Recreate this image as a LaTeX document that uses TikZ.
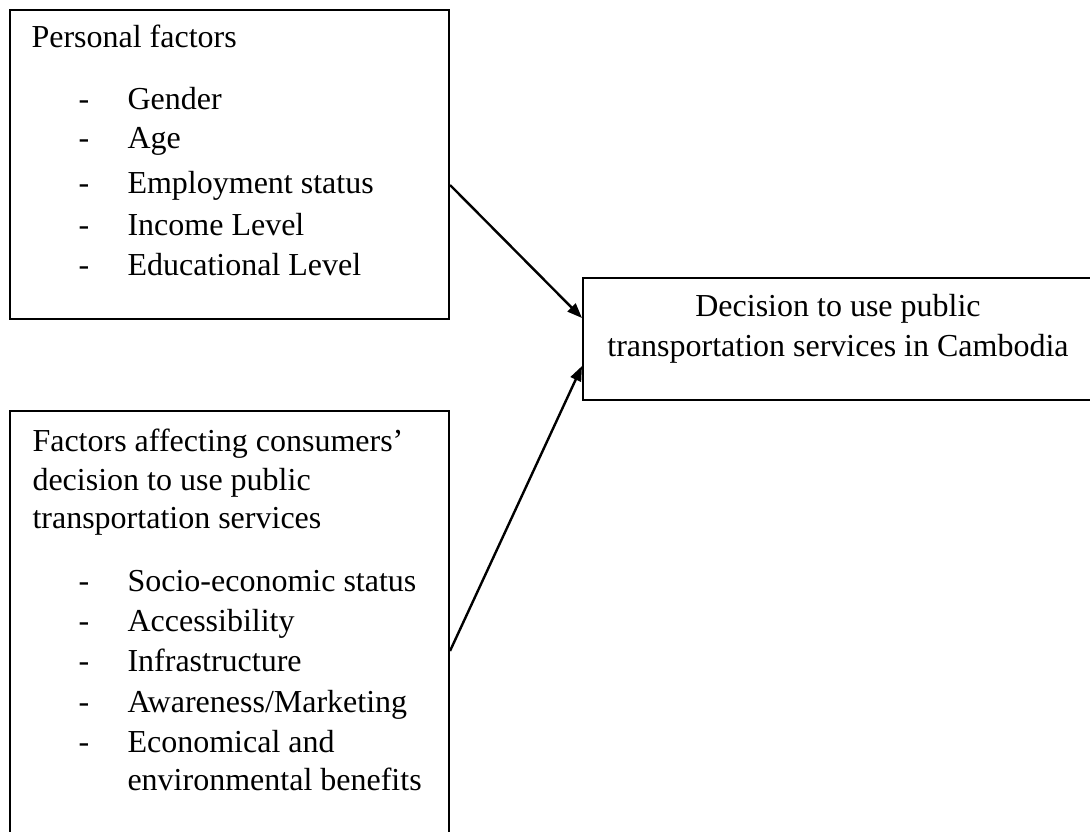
\documentclass[tikz,border=0pt]{standalone}
\usepackage{fontspec}
\setmainfont{Liberation Serif}
\usetikzlibrary{fit,arrows.meta}
\begin{document}
\begin{tikzpicture}[x=0.375pt,y=-0.375pt,
  box/.style={draw,line width=0.75pt,inner sep=0pt},
  txt/.style={anchor=base west,inner sep=0pt,font=\fontsize{12}{14}\selectfont},
  ctxt/.style={anchor=base,inner sep=0pt,font=\fontsize{12}{14}\selectfont},
  arr/.style={line width=0.9pt,-{Triangle[length=5.6pt,width=4.2pt]}}]
\useasboundingbox (0,0) rectangle (1090,832);

% frames
\node[box,fit={(10,10) (449,319)}] (pf) {};
\node[box,fit={(10,411) (449,845)}] (fa) {};
\node[box,fit={(583,278) (1093,400)}] (dec) {};

% personal factors
\node[txt] (pft) at (31,48) {Personal factors};
\foreach \y/\t [count=\i] in {110/Gender,149/Age,194/Employment status,236/Income Level,276/Educational Level}{
  \node[txt] (pfd\i) at (78,\y) {-};
  \node[txt] (pfi\i) at (127,\y) {\t};
}

% factors affecting the decision
\node[txt] (fat1) at (32,452) {Factors affecting consumers’};
\node[txt] (fat2) at (32,491) {decision to use public};
\node[txt] (fat3) at (32,528) {transportation services};
\foreach \y/\t [count=\i] in {592/Socio-economic status,631/Accessibility,671/Infrastructure,712/{Awareness/Marketing},752/Economical and}{
  \node[txt] (fad\i) at (78,\y) {-};
  \node[txt] (fai\i) at (127,\y) {\t};
}
\node[txt] (fai6) at (127,790) {environmental benefits};

% outcome
\node[ctxt] (dect1) at (838,317) {Decision to use public};
\node[ctxt] (dect2) at (838,357) {transportation services in Cambodia};

% connectors
\coordinate (s1) at (pf.east |- 0,185);
\coordinate (e1) at (dec.west |- 0,318);
\coordinate (s2) at (fa.east |- 0,651);
\coordinate (e2) at (dec.west |- 0,366);
\draw[arr] (s1) -- (e1);
\draw[arr] (s2) -- (e2);
\end{tikzpicture}
\end{document}
